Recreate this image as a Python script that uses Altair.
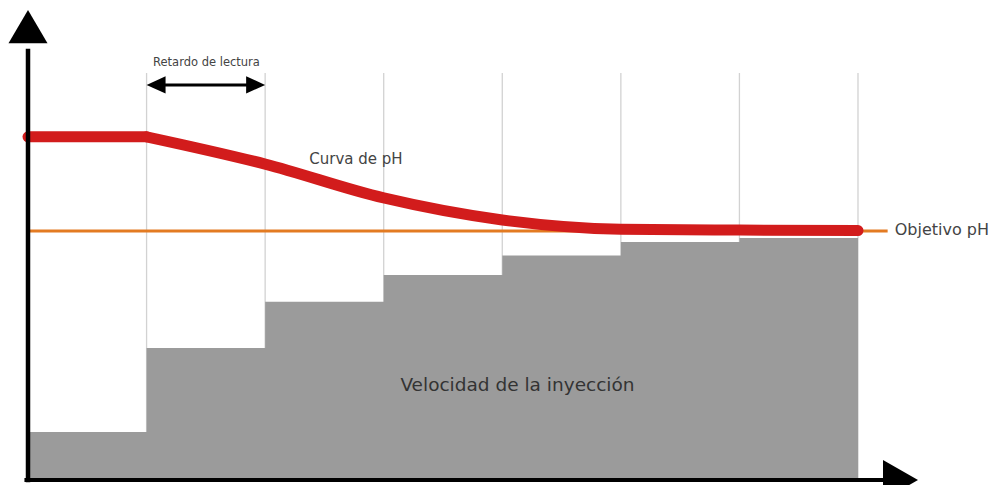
import altair as alt
import pandas as pd

# ---- data (abstract units: x = dosing cycles, y = relative level 0..100) ----
step_x = [0, 1, 2, 3, 4, 5, 6, 7]
injection_rate = [10.9, 30.0, 40.5, 46.6, 51.0, 54.1, 55.0, 55.0]

# pH curve: flat before the first reading, then descending after the delay
ph_flat_x = [0, 1]
ph_flat = [78.0, 78.0]
ph_fall_x = [1, 2, 3, 4, 5, 6, 7]
ph_fall = [78.0, 71.8, 64.1, 59.1, 57.0, 56.8, 56.7]

ph_target = 56.6
target_end = 7.25

grid_x = [1, 2, 3, 4, 5, 6, 7]
grid_top = 92.5

delay_start, delay_end, delay_y = 1, 2, 89.8

x_axis_end, y_axis_end = 7.506, 106.8

labels = ["Retardo de lectura", "Curva de pH", "Velocidad de la inyección", "Objetivo pH"]

XS = alt.Scale(domain=[0, 7], nice=False, zero=False)
YS = alt.Scale(domain=[0, 100], nice=False, zero=False)


def X(f="x"):
    return alt.X(f"{f}:Q", scale=XS, axis=None)


def Y(f="y"):
    return alt.Y(f"{f}:Q", scale=YS, axis=None)


grid = alt.Chart(pd.DataFrame({"x": grid_x, "y": [0] * len(grid_x), "y2": [grid_top] * len(grid_x)})).mark_rule(
    color="#d2d2d2", strokeWidth=1.3
).encode(x=X(), y=Y(), y2="y2:Q")

area = alt.Chart(pd.DataFrame({"x": step_x, "y": injection_rate})).mark_area(
    interpolate="step-after", color="#9b9b9b", opacity=1
).encode(x=X(), y=Y())

target = alt.Chart(pd.DataFrame({"x": [0], "x2": [target_end], "y": [ph_target]})).mark_rule(
    color="#e37b22", strokeWidth=3
).encode(x=X(), x2="x2:Q", y=Y())

curve_df = pd.concat([
    pd.DataFrame({"x": ph_flat_x, "y": ph_flat, "seg": "flat"}),
    pd.DataFrame({"x": ph_fall_x, "y": ph_fall, "seg": "fall"}),
])
curve = alt.Chart(curve_df).mark_line(
    interpolate="monotone", color="#d21c1c", strokeWidth=11, strokeCap="round", strokeJoin="round"
).encode(x=X(), y=Y(), detail="seg:N", order="x:Q")

x_axis = alt.Chart(pd.DataFrame({"x": [-0.03], "x2": [7.3], "y": [0]})).mark_rule(
    color="black", strokeWidth=4
).encode(x=X(), x2="x2:Q", y=Y())

y_axis = alt.Chart(pd.DataFrame({"x": [0], "y": [-0.5], "y2": [98]})).mark_rule(
    color="black", strokeWidth=4.5
).encode(x=X(), y=Y(), y2="y2:Q")


def head(x, y, path, size):
    return alt.Chart(pd.DataFrame({"x": [x], "y": [y]})).mark_point(
        shape=path, size=size, filled=True, color="black", opacity=1, strokeWidth=0
    ).encode(x=X(), y=Y())


y_head = head(0, y_axis_end, "M0,0L1,1.7L-1,1.7Z", 1521)
x_head = head(x_axis_end, 0, "M0,0L-1.75,-1L-1.75,1Z", 1600)

delay_line = alt.Chart(pd.DataFrame({"x": [delay_start + 0.05], "x2": [delay_end - 0.05], "y": [delay_y]})).mark_rule(
    color="black", strokeWidth=3
).encode(x=X(), x2="x2:Q", y=Y())
delay_l = head(delay_start, delay_y, "M0,0L2,-0.9L2,0.9Z", 361)
delay_r = head(delay_end, delay_y, "M0,0L-2,-0.9L-2,0.9Z", 361)


def label(text, x, y, size, align="center", color="#3a3a3a"):
    return alt.Chart(pd.DataFrame({"x": [x], "y": [y], "t": [text]})).mark_text(
        align=align, baseline="middle", fontSize=size, font="DejaVu Sans", color=color
    ).encode(x=X(), y=Y(), text="t:N")


texts = [
    label(labels[0], 1.505, 94.8, 11.5, color="#444444"),
    label(labels[1], 2.766, 72.9, 15, color="#444444"),
    label(labels[2], 4.128, 21.6, 18.5, color="#333333"),
    label(labels[3], 7.31, 56.8, 16, align="left", color="#444444"),
]

chart = alt.layer(
    grid, area, target, curve, x_axis, y_axis, y_head, x_head, delay_line, delay_l, delay_r, *texts
).properties(
    width=830,
    height=440,
    padding={"left": 20, "top": 32, "right": 134, "bottom": 5},
    autosize=alt.AutoSizeParams(type="none"),
    background="white",
).configure_view(stroke=None)

chart.save("out.html", embed_options={"renderer": "svg", "actions": False})
